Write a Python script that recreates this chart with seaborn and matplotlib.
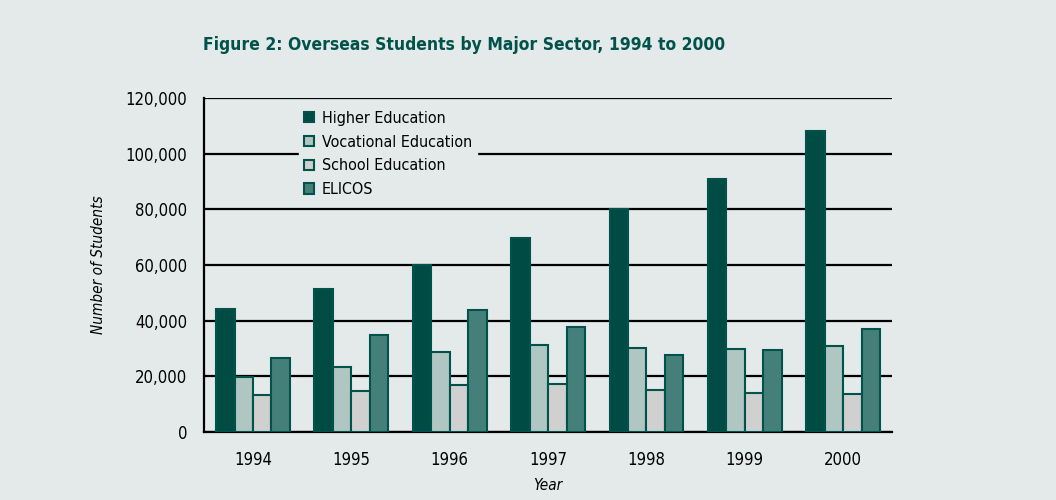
import pandas as pd
import matplotlib.pyplot as plt
import seaborn as sns
from matplotlib.ticker import FuncFormatter, FixedLocator

# Values
years = ["1994", "1995", "1996", "1997", "1998", "1999", "2000"]
sectors = ["Higher Education", "Vocational Education", "School Education", "ELICOS"]
higher = [44200, 51400, 60000, 69700, 80100, 90900, 108100]
vocational = [19800, 23400, 28700, 31300, 30200, 29800, 30900]
school = [13300, 14700, 16900, 17200, 15100, 14000, 13700]
elicos = [26600, 34800, 43800, 37700, 27700, 29500, 37000]

colors = ["#004C45", "#AFC6C2", "#D0D0D0", "#457F79"]
bg = "#E4EAEA"
teal = "#00524A"

rows = []
for sector, vals in zip(sectors, [higher, vocational, school, elicos]):
    for y, v in zip(years, vals):
        rows.append({"Year": y, "Sector": sector, "Students": v})
df = pd.DataFrame(rows)

sns.set_style("white")
plt.rcParams["font.family"] = ["DejaVu Sans"]
plt.rcParams["font.stretch"] = "condensed"
plt.rcParams["text.color"] = "black"
plt.rcParams["axes.labelcolor"] = "black"
plt.rcParams["xtick.color"] = "black"
plt.rcParams["ytick.color"] = "black"

fig = plt.figure(figsize=(10.56, 5), dpi=100, facecolor=bg)
ax = fig.add_axes([0.193, 0.136, 0.652, 0.668])
ax.set_facecolor(bg)

sns.barplot(data=df, x="Year", y="Students", hue="Sector", hue_order=sectors,
            order=years, palette=colors, width=0.75, edgecolor=teal,
            linewidth=1.5, saturation=1, ax=ax, zorder=3)

ax.set_ylim(0, 120000)
ax.set_xlim(-0.5, 6.5)
ax.yaxis.set_major_locator(FixedLocator(range(0, 120001, 20000)))
ax.yaxis.set_major_formatter(FuncFormatter(lambda v, p: f"{int(v):,}"))
ax.grid(axis="y", color="black", linewidth=1.6, zorder=1)
ax.set_axisbelow(True)

for s in ["top", "right"]:
    ax.spines[s].set_visible(False)
for s in ["left", "bottom"]:
    ax.spines[s].set_color("black")
    ax.spines[s].set_linewidth(1.6)

ax.tick_params(axis="y", direction="inout", length=12, width=1.4, labelsize=12, pad=6)
ax.tick_params(axis="x", which="major", length=0, labelsize=12, pad=14)
ax.set_xticks([i - 0.5 for i in range(8)], minor=True)
ax.tick_params(axis="x", which="minor", direction="out", length=7, width=1.4)

ax.set_xlabel("Year", fontsize=11, style="italic", labelpad=6)
ax.set_ylabel("Number of Students", fontsize=11, style="italic", labelpad=14)

leg = ax.legend(loc="upper left", bbox_to_anchor=(0.127, 1.0), fontsize=11.5,
                handlelength=0.6, handleheight=0.6, handletextpad=0.5,
                labelspacing=0.55, frameon=True, facecolor=bg, edgecolor=bg,
                framealpha=1, borderpad=0.3)
leg.set_zorder(5)

fig.text(0.192, 0.9, "Figure 2: Overseas Students by Major Sector, 1994 to 2000",
         fontsize=12.5, fontweight="bold", color=teal)

plt.savefig("out.png", dpi=100, facecolor=bg)
